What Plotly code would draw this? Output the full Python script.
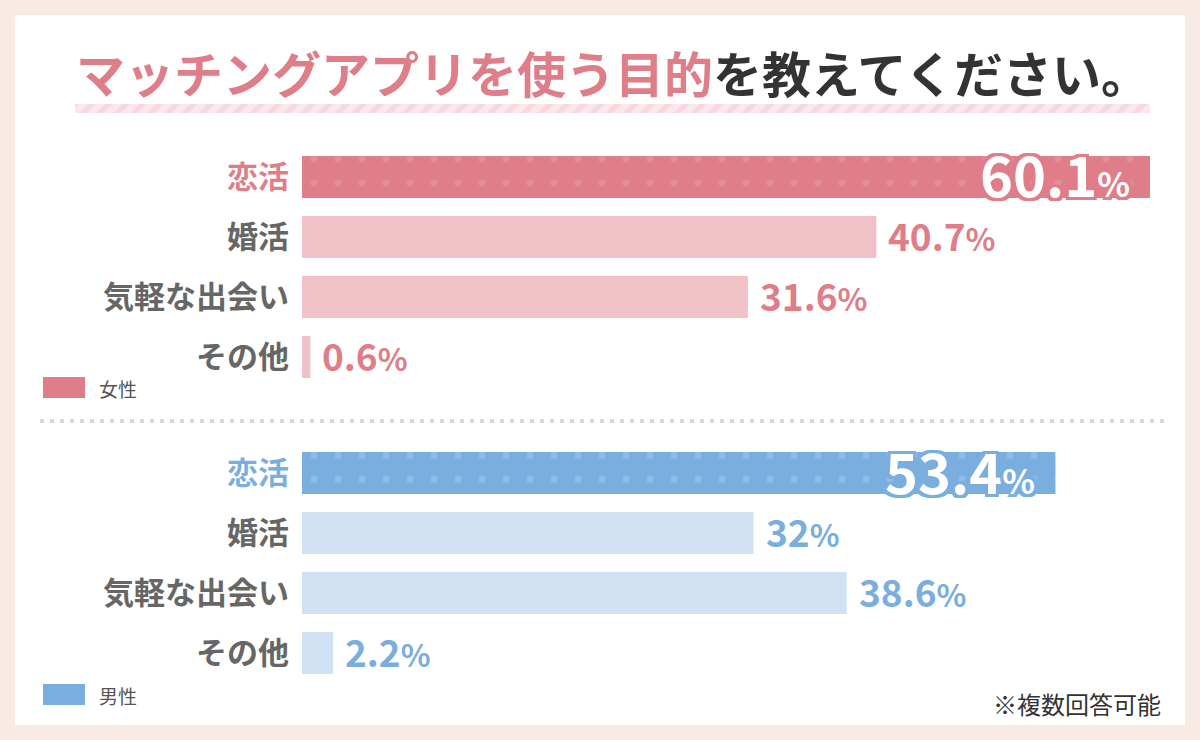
import plotly.graph_objects as go

# Data
categories = ["恋活", "婚活", "気軽な出会い", "その他"]
female_values = [60.1, 40.7, 31.6, 0.6]
male_values = [53.4, 32, 38.6, 2.2]
female_label = "女性"
male_label = "男性"
title_pink = "マッチングアプリを使う目的"
title_dark = "を教えてください。"
footnote = "※複数回答可能"

# Colours
PINK = "#df7d89"
PINK_LIGHT = "#f0c1c7"
BLUE = "#7aaedf"
BLUE_LIGHT = "#cfe1f3"
GREY = "#666666"
FONT = "Noto Sans CJK JP"

W, H = 1200, 740
def px(x):
    return x / W
def py(y):
    return 1 - y / H

X_MAX = (W - 302) / 14.11  # 14.11 px per percent

fig = go.Figure()

# Female / male bars
groups = [
    (female_values, PINK, PINK_LIGHT, "x", "y", "#eaa0aa"),
    (male_values, BLUE, BLUE_LIGHT, "x2", "y2", "#a4c8ea"),
]
for vals, c_main, c_light, xa, ya, c_star in groups:
    # highlighted first category with sparkle pattern
    fig.add_trace(go.Bar(
        x=vals[:1], y=categories[:1], orientation="h", width=0.7,
        marker=dict(color=c_main, line=dict(width=0),
                    pattern=dict(shape=".", fgcolor=c_star, size=24, solidity=0.07)),
        xaxis=xa, yaxis=ya, showlegend=False, hoverinfo="skip"))
    fig.add_trace(go.Bar(
        x=vals[1:], y=categories[1:], orientation="h", width=0.7,
        marker=dict(color=c_light, line=dict(width=0)),
        xaxis=xa, yaxis=ya, showlegend=False, hoverinfo="skip"))

# Title underline band (striped)
fig.add_trace(go.Bar(
    x=[1], y=[0], orientation="h", width=1,
    marker=dict(color="#fce8ec", line=dict(width=0),
                pattern=dict(shape="/", fgcolor="#f6c6d0", size=12, solidity=0.45)),
    xaxis="x3", yaxis="y3", showlegend=False, hoverinfo="skip"))

def ticks(main_color):
    out = []
    for i, c in enumerate(categories):
        col = main_color if i == 0 else GREY
        out.append(f"<span style='color:{col}'><b>{c}</b></span>")
    return out

axis_common = dict(showgrid=False, zeroline=False, showline=False)
fig.update_layout(
    width=W, height=H,
    margin=dict(l=0, r=0, t=0, b=0),
    paper_bgcolor="#f8ebe6",
    plot_bgcolor="rgba(0,0,0,0)",
    font=dict(family=FONT, color=GREY),
    barmode="overlay",
    xaxis=dict(domain=[px(302), 1], range=[0, X_MAX], visible=False, anchor="y", **axis_common),
    yaxis=dict(domain=[py(387), py(147)], range=[3.5, -0.5], anchor="x",
               categoryorder="array", categoryarray=categories,
               tickmode="array", tickvals=categories, ticktext=ticks(PINK),
               tickfont=dict(size=31, family=FONT), ticks="", ticklabelstandoff=12,
               **axis_common),
    xaxis2=dict(domain=[px(302), 1], range=[0, X_MAX], visible=False, anchor="y2", **axis_common),
    yaxis2=dict(domain=[py(683), py(443)], range=[3.5, -0.5], anchor="x2",
                categoryorder="array", categoryarray=categories,
                tickmode="array", tickvals=categories, ticktext=ticks(BLUE),
                tickfont=dict(size=31, family=FONT), ticks="", ticklabelstandoff=12,
                **axis_common),
    xaxis3=dict(domain=[px(75), px(1150)], range=[0, 1], visible=False, anchor="y3", **axis_common),
    yaxis3=dict(domain=[py(113), py(104)], range=[-0.5, 0.5], visible=False, anchor="x3", **axis_common),
)

# White panel
shapes = [dict(type="rect", xref="paper", yref="paper", x0=px(15), x1=px(1185),
               y0=py(725), y1=py(15), fillcolor="white", line=dict(width=0), layer="below")]
# Dotted separator
shapes.append(dict(type="line", xref="paper", yref="paper", x0=px(40), x1=px(1165),
                   y0=py(421), y1=py(421), line=dict(color="#d8d8d8", width=4, dash="4px,6px")))
# Legend swatches
shapes.append(dict(type="rect", xref="paper", yref="paper", x0=px(43), x1=px(85),
                   y0=py(398), y1=py(377), fillcolor=PINK, line=dict(width=0)))
shapes.append(dict(type="rect", xref="paper", yref="paper", x0=px(43), x1=px(85),
                   y0=py(705), y1=py(684), fillcolor=BLUE, line=dict(width=0)))
fig.update_layout(shapes=shapes)

ann = []
# Title
ann.append(dict(xref="paper", yref="paper", x=px(613), y=py(71), xanchor="center", yanchor="middle",
                showarrow=False,
                text=f"<b><span style='color:{PINK}'>{title_pink}</span>"
                     f"<span style='color:#333333'>{title_dark}</span></b>",
                font=dict(size=49, family=FONT)))

# Value labels
for vals, c_main, xa, ya in [(female_values, PINK, "x", "y"), (male_values, BLUE, "x2", "y2")]:
    for i, (c, v) in enumerate(zip(categories, vals)):
        if i == 0:
            sh = ", ".join(f"{dx}px {dy}px 0 {c_main}" for dx in (-3, 0, 3) for dy in (-3, 0, 3))
            ann.append(dict(xref=xa, yref=ya, x=v, y=c, xanchor="right", yanchor="middle",
                            xshift=-18, yshift=4, showarrow=False,
                            text=f"<b>{v}<span style='font-size:34px'>%</span></b>",
                            font=dict(size=56, color="white", family=FONT, shadow=sh)))
        else:
            ann.append(dict(xref=xa, yref=ya, x=v, y=c, xanchor="left", yanchor="middle",
                            xshift=10, yshift=2, showarrow=False,
                            text=f"<b>{v}<span style='font-size:31px'>%</span></b>",
                            font=dict(size=37, color=c_main, family=FONT)))

# Legend texts
ann.append(dict(xref="paper", yref="paper", x=px(97), y=py(388), xanchor="left", yanchor="middle",
                showarrow=False, text=female_label, font=dict(size=19, color="#555555", family=FONT)))
ann.append(dict(xref="paper", yref="paper", x=px(97), y=py(695), xanchor="left", yanchor="middle",
                showarrow=False, text=male_label, font=dict(size=19, color="#555555", family=FONT)))
# Footnote
ann.append(dict(xref="paper", yref="paper", x=px(1163), y=py(703), xanchor="right", yanchor="middle",
                showarrow=False, text=footnote, font=dict(size=24, color="#333333", family=FONT)))
fig.update_layout(annotations=ann)

fig.write_html("out.html", config={"displayModeBar": False},
               post_script="document.body.style.margin='0';")
